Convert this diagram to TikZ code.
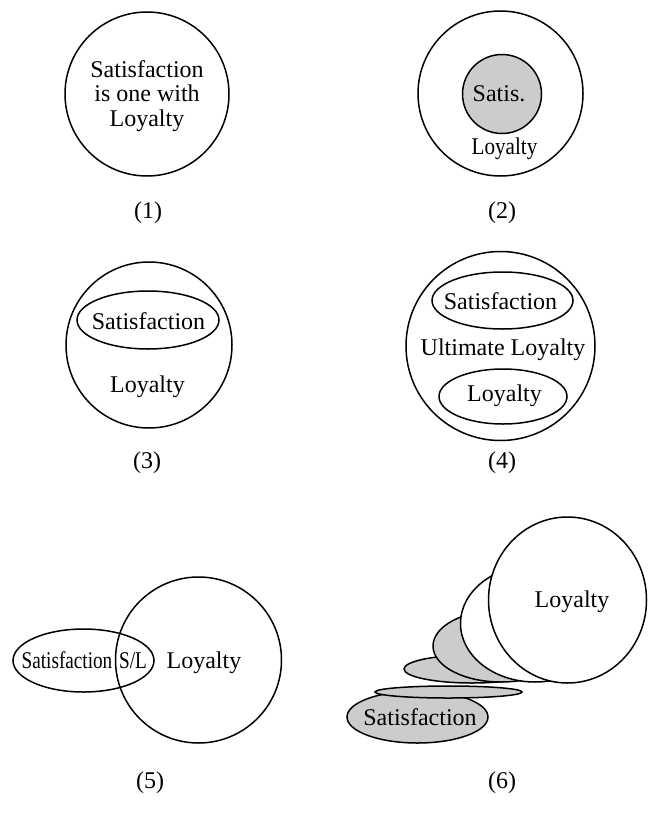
\documentclass[tikz,border=0pt]{standalone}
\usepackage{fontspec}
\setmainfont{Liberation Serif}
\tikzset{
  shp/.style={line width=1.5pt},
  dotfill/.style={fill=black!20},
  lbl/.style={inner sep=0pt, anchor=base, font=\fontsize{24}{26}\selectfont},
}
\begin{document}
\begin{tikzpicture}[x=1pt,y=-1pt]
\useasboundingbox (0,0) rectangle (648,827);
% ---------- (1)
\draw[shp] (147,94) circle (82pt);
\node[lbl] (p1a) at (147,77) {Satisfaction};
\node[lbl] (p1b) at (147,101) {is one with};
\node[lbl] (p1c) at (147,126) {Loyalty};
\node[lbl] (n1) at (148,218.5) {(1)};
% ---------- (2)
\draw[shp] (500.5,93.5) circle (82.5pt);
\draw[shp,dotfill] (502,94) circle (39.5pt);
\node[lbl] (p2a) at (499,101.5) {Satis.};
\node[lbl] (p2b) at (504.5,154) {\scalebox{0.88}[1]{Loyalty}};
\node[lbl] (n2) at (502,218.5) {(2)};
% ---------- (3)
\draw[shp] (149,345) circle (83pt);
\draw[shp] (148,320) ellipse (71pt and 29pt);
\node[lbl] (p3a) at (148.5,329) {Satisfaction};
\node[lbl] (p3b) at (147.5,392) {Loyalty};
\node[lbl] (n3) at (147,468.5) {(3)};
% ---------- (4)
\draw[shp] (500.5,346) circle (94.5pt);
\draw[shp] (502.5,300.5) ellipse (70.5pt and 28.5pt);
\draw[shp] (503,396.5) ellipse (64pt and 27.5pt);
\node[lbl] (p4a) at (500.5,309) {Satisfaction};
\node[lbl] (p4b) at (503,355) {Ultimate Loyalty};
\node[lbl] (p4c) at (504.5,401) {Loyalty};
\node[lbl] (n4) at (502,468.5) {(4)};
% ---------- (5)
\draw[shp] (198.5,660) circle (83pt);
\draw[shp] (83.5,660.5) ellipse (70.5pt and 31.5pt);
\node[lbl] (p5a) at (67,668) {\scalebox{0.8}[1]{Satisfaction}};
\node[lbl] (p5b) at (133,668) {\scalebox{0.8}[1]{S/L}};
\node[lbl] (p5c) at (204,668) {Loyalty};
\node[lbl] (n5) at (150,788) {(5)};
% ---------- (6)
\draw[shp,dotfill] (417.5,717) ellipse (70.5pt and 26pt);
\draw[shp,dotfill] (448.5,692) ellipse (73.5pt and 6pt);
\draw[shp,dotfill] (472,669) ellipse (68pt and 14pt);
\draw[shp,dotfill] (501,646) ellipse (68pt and 36pt);
\draw[shp,fill=white] (535,623.5) ellipse (74.5pt and 58.5pt);
\draw[shp,fill=white] (567.5,600) ellipse (79pt and 83pt);
\node[lbl] (p6a) at (572,607) {Loyalty};
\node[lbl] (p6b) at (420,725) {Satisfaction};
\node[lbl] (n6) at (502,788) {(6)};
\end{tikzpicture}
\end{document}
